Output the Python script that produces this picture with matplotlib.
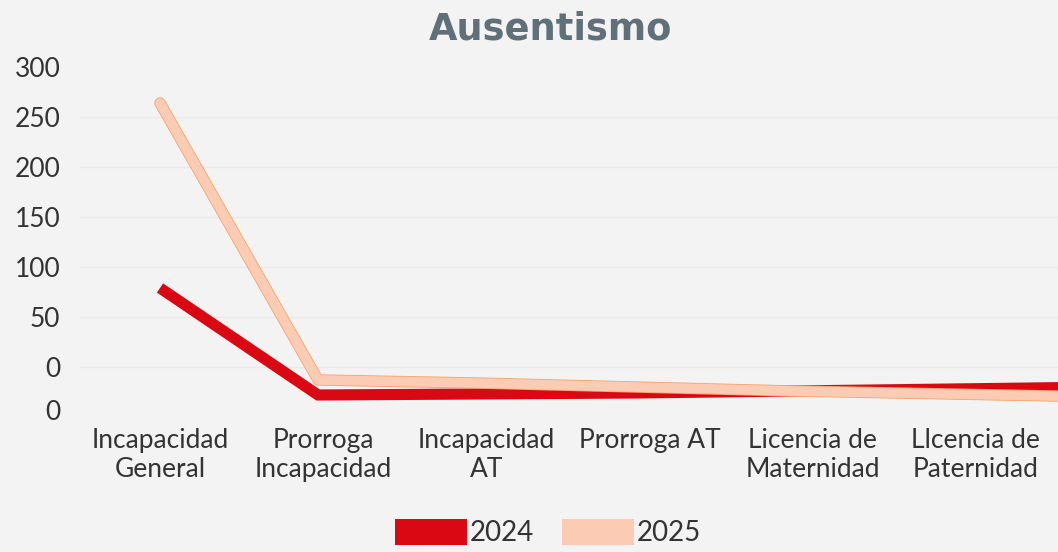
import numpy as np
import matplotlib
matplotlib.use("Agg")
import matplotlib.pyplot as plt
import matplotlib.patheffects as pe
from matplotlib.patches import Patch

categories = ["Incapacidad\nGeneral", "Prorroga\nIncapacidad", "Incapacidad\nAT",
              "Prorroga AT", "Licencia de\nMaternidad", "Llcencia de\nPaternidad"]
# the line runs on past the last label (cut by the right edge)
vals_2024 = [122, 15, 16, 17, 19, 21, 23]
vals_2025 = [307, 30, 27, 23, 19, 16, 13]
ytick_vals = [0, 43, 93, 143, 193, 243, 293, 343]
ytick_labels = ["0", "0", "50", "100", "150", "200", "250", "300"]

red = "#d90812"
peach = "#fccbb3"
bg = "#f3f3f3"

fig = plt.figure(figsize=(10.58, 5.52), dpi=100, facecolor=bg)
ax = fig.add_axes([80 / 1058, 142 / 552, 978 / 1058, 350 / 552], facecolor=bg)

x = np.arange(len(vals_2024))
ax.plot(x, vals_2024, color=red, lw=8, solid_capstyle="butt", solid_joinstyle="miter",
        zorder=3)
ax.plot(x, vals_2025, color=peach, lw=7, solid_capstyle="round", zorder=4,
        path_effects=[pe.Stroke(linewidth=8.2, foreground="#f5a468"), pe.Normal()])

ax.set_xlim(-0.506, 5.68)
ax.set_ylim(0, 350)

ax.set_yticks(ytick_vals)
ax.set_yticklabels(ytick_labels, fontsize=19, color="#333333", family="Lato")
ax.set_xticks(np.arange(len(categories)) * 1.032)
ax.set_xticklabels(categories, fontsize=19, color="#333333", family="Lato",
                   linespacing=1.22)
ax.tick_params(axis="y", length=0, pad=14)
ax.tick_params(axis="x", length=0, pad=13)

ax.grid(axis="y", color="#eaeaea", lw=1)
gl = ax.yaxis.get_gridlines()
gl[0].set_visible(False)
gl[-1].set_visible(False)
for s in ax.spines.values():
    s.set_visible(False)

fig.text(0.52, 0.948, "Ausentismo", ha="center", va="center", fontsize=26.5,
         fontweight="bold", color="#5f7079", family="DejaVu Sans")

handles = [Patch(facecolor=red, edgecolor="none"), Patch(facecolor=peach, edgecolor="none")]
fig.legend(handles, ["2024", "2025"], loc="lower center", bbox_to_anchor=(0.518, -0.035),
           ncol=2, frameon=False, handlelength=2.6, handleheight=1.05,
           handletextpad=0.1, columnspacing=1.0,
           prop={"family": "Lato", "size": 20})
for t in fig.legends[0].get_texts():
    t.set_color("#333333")

fig.savefig("out.png", dpi=100, facecolor=bg)
